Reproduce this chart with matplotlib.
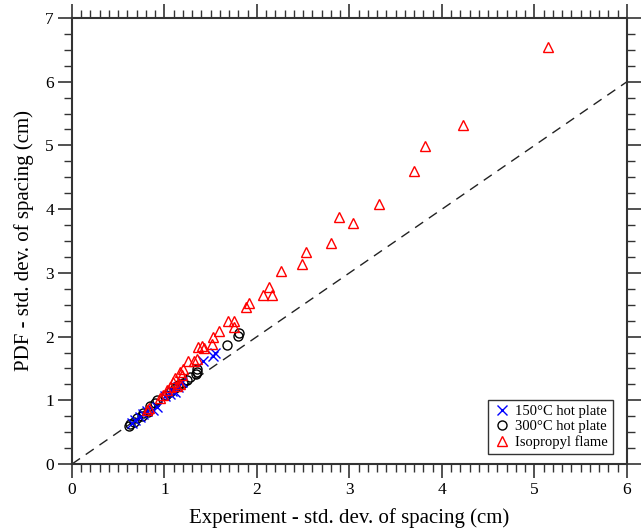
import matplotlib
matplotlib.use("Agg")
import matplotlib.pyplot as plt
from matplotlib.ticker import MultipleLocator

plt.rcParams['font.family'] = ['Liberation Serif', 'DejaVu Serif']

# Standard deviation of spacing (cm): experiment (x) vs PDF model (y)
hot150_exp = [1.546, 1.524, 1.419, 1.190, 1.149, 1.114, 1.080, 1.060, 1.005, 0.916,
              0.872, 0.810, 0.770, 0.735, 0.681, 0.645]
hot150_pdf = [1.738, 1.695, 1.617, 1.290, 1.204, 1.135, 1.150, 1.100, 1.067, 0.890,
              0.848, 0.830, 0.780, 0.733, 0.691, 0.648]

hot300_exp = [1.809, 1.798, 1.679, 1.348, 1.348, 1.341, 1.276, 1.240, 1.203, 1.149,
              1.114, 1.059, 1.016, 0.916, 0.897, 0.843, 0.825, 0.771, 0.754, 0.699,
              0.670, 0.627, 0.619]
hot300_pdf = [2.051, 2.009, 1.868, 1.486, 1.449, 1.413, 1.361, 1.318, 1.276, 1.240,
              1.188, 1.135, 1.083, 1.005, 0.962, 0.910, 0.821, 0.796, 0.753, 0.717,
              0.664, 0.628, 0.596]

flame_exp = [5.146, 4.227, 3.816, 3.697, 3.322, 2.886, 3.035, 2.797, 2.533, 2.490,
             2.259, 2.126, 2.062, 2.162, 1.914, 1.881, 1.683, 1.751, 1.755, 1.589,
             1.528, 1.510, 1.402, 1.365, 1.427, 1.348, 1.322, 1.251, 1.203, 1.168,
             1.186, 1.114, 1.095, 1.059, 1.024, 0.987, 0.951, 0.836, 0.814, 1.170,
             1.130]
flame_pdf = [6.545, 5.321, 4.991, 4.599, 4.076, 3.872, 3.787, 3.474, 3.328, 3.135,
             3.034, 2.774, 2.657, 2.657, 2.532, 2.460, 2.249, 2.249, 2.155, 2.088,
             1.998, 1.879, 1.852, 1.841, 1.816, 1.643, 1.621, 1.621, 1.486, 1.449,
             1.397, 1.345, 1.292, 1.204, 1.162, 1.083, 1.031, 0.874, 0.848, 1.250,
             1.220]

fig = plt.figure(figsize=(6.44, 5.32), dpi=100)
ax = fig.add_axes([0.1118, 0.1278, 0.8618, 0.8384])

# 1:1 reference line
ax.plot([0, 6], [0, 6], color='#222222', lw=1.0, ls=(0, (7, 5)), zorder=1)

ax.plot(hot150_exp, hot150_pdf, ls='none', marker='x', ms=7, mew=1.0,
        color='blue', label='150°C hot plate', zorder=3)
ax.plot(hot300_exp, hot300_pdf, ls='none', marker='o', ms=6.5, mew=1.0,
        mfc='none', mec='black', label='300°C hot plate', zorder=2)
ax.plot(flame_exp, flame_pdf, ls='none', marker='^', ms=7.5, mew=1.0,
        mfc='none', mec='red', label='Isopropyl flame', zorder=4)

ax.set_xlim(0, 6)
ax.set_ylim(0, 7)
ax.xaxis.set_major_locator(MultipleLocator(1))
ax.xaxis.set_minor_locator(MultipleLocator(0.1))
ax.yaxis.set_major_locator(MultipleLocator(1))
ax.yaxis.set_minor_locator(MultipleLocator(0.25))
ax.tick_params(which='both', direction='out', top=True, right=True,
               labelsize=12.5, colors='#333333', labelcolor='black')
ax.tick_params(which='major', length=10, width=1.2, pad=3)
ax.tick_params(which='minor', length=6, width=1.0)
for s in ax.spines.values():
    s.set_linewidth(1.5)
    s.set_color('#333333')

ax.set_xlabel('Experiment - std. dev. of spacing (cm)', fontsize=15, labelpad=7)
ax.set_ylabel('PDF - std. dev. of spacing (cm)', fontsize=15, labelpad=8)

leg = ax.legend(loc='lower right', fontsize=10.5, frameon=True, fancybox=False,
                handletextpad=0.3, handlelength=1.2, borderpad=0.35,
                labelspacing=0.12, bbox_to_anchor=(0.988, 0.006))
leg.get_frame().set_edgecolor('black')
leg.get_frame().set_linewidth(1.0)

fig.savefig('out.png', dpi=100)
